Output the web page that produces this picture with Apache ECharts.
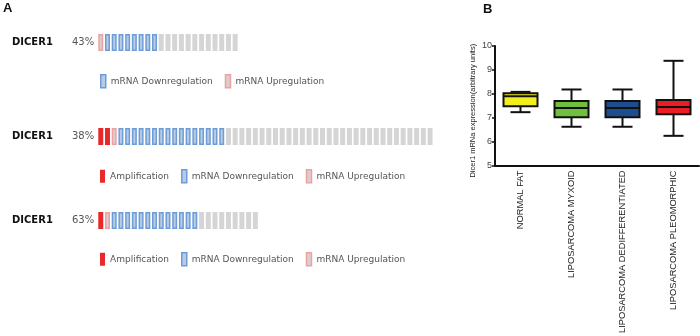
<!DOCTYPE html>
<html>
<head>
<meta charset="utf-8">
<script src="https://cdn.jsdelivr.net/npm/echarts@6/dist/echarts.min.js"></script>
<style>
  html, body { margin: 0; padding: 0; background: #fff; }
  #main { width: 700px; height: 336px; }
</style>
</head>
<body>
<div id="main"></div>
<script>
// panel A - oncoprint rows, one per dataset
var geneNames = ['DICER1', 'DICER1', 'DICER1'];
var sampleCount = [21, 50, 24];
var ampCount = [0, 2, 1];
var upCount = [1, 1, 1];
var downCount = [8, 16, 13];

// panel B - box plot
var groups = ['NORMAL FAT', 'LIPOSARCOMA MYXOID', 'LIPOSARCOMA DEDIFFERENTIATED', 'LIPOSARCOMA PLEOMORPHIC'];
var boxMin = [7.23, 6.62, 6.62, 6.24];
var boxQ1 = [7.48, 7.02, 7.02, 7.14];
var boxMedian = [7.9, 7.4, 7.4, 7.45];
var boxQ3 = [8.02, 7.7, 7.7, 7.74];
var boxMax = [8.08, 8.18, 8.18, 9.38];
var yTicks = [5, 6, 7, 8, 9, 10];

var boxColors = ['#f3ee1a', '#6fc03f', '#1e4d8e', '#ec1e25'];

var chart = echarts.init(document.getElementById('main'));

// layout of the oncoprint rows
var rowTop = [34, 128, 212];
var rowLegendTop = [74, 169, 252];
var cellPitch = 6.72;
var cellLeft = 97.4;

var typeNames = {
  amp: 'Amplification',
  down: 'mRNA Downregulation',
  up: 'mRNA Upregulation',
  none: 'Unaltered'
};
var typeStyle = {
  none: { color: '#d5d5d5' },
  amp: { color: '#e8282b' },
  up: { color: '#d8d0d0', borderColor: '#efa0a0', borderWidth: 1.5 },
  down: { color: '#b9cbe3', borderColor: '#6c9dd8', borderWidth: 1.5 }
};

var grids = [], xAxes = [], yAxes = [], series = [], legends = [], graphics = [];

for (var r = 0; r < 3; r++) {
  var cells = [];
  for (var i = 0; i < ampCount[r]; i++) cells.push('amp');
  for (i = 0; i < upCount[r]; i++) cells.push('up');
  for (i = 0; i < downCount[r]; i++) cells.push('down');
  while (cells.length < sampleCount[r]) cells.push('none');

  grids.push({ left: cellLeft, top: rowTop[r], width: sampleCount[r] * cellPitch, height: 17 });
  xAxes.push({ type: 'category', gridIndex: r, data: cells.map(function (c, k) { return k; }), show: false });
  yAxes.push({ type: 'value', gridIndex: r, min: 0, max: 1, show: false });

  ['none', 'amp', 'up', 'down'].forEach(function (t) {
    series.push({
      name: typeNames[t],
      type: 'bar',
      xAxisIndex: r,
      yAxisIndex: r,
      barWidth: 5,
      barGap: '-100%',
      silent: true,
      itemStyle: typeStyle[t],
      data: cells.map(function (c) { return c === t ? 1 : '-'; })
    });
  });

  var legendData = [];
  if (ampCount[r] > 0) legendData.push({ name: typeNames.amp, itemStyle: typeStyle.amp });
  legendData.push({ name: typeNames.down, itemStyle: typeStyle.down });
  legendData.push({ name: typeNames.up, itemStyle: typeStyle.up });
  legends.push({
    left: 100,
    top: rowLegendTop[r],
    padding: 0,
    itemWidth: 5,
    itemHeight: 13,
    itemGap: 12,
    selectedMode: false,
    icon: 'rect',
    textStyle: { fontFamily: 'DejaVu Sans', fontSize: 9, color: '#555' },
    data: legendData
  });

  var altered = ampCount[r] + upCount[r] + downCount[r];
  graphics.push({
    type: 'text', left: 12, top: rowTop[r] + 3,
    style: { text: geneNames[r], font: 'bold 10px "DejaVu Sans"', fill: '#111' }
  });
  graphics.push({
    type: 'text', left: 72, top: rowTop[r] + 3,
    style: { text: Math.round(altered / sampleCount[r] * 100) + '%', font: '10px "DejaVu Sans"', fill: '#555' }
  });
}

graphics.push({ type: 'text', left: 3, top: 2, style: { text: 'A', font: 'bold 13px "Liberation Sans"', fill: '#111' } });
graphics.push({ type: 'text', left: 483, top: 3, style: { text: 'B', font: 'bold 13px "Liberation Sans"', fill: '#111' } });

// box plot grid
grids.push({ left: 495, top: 46, width: 204, height: 122 });
xAxes.push({
  type: 'category',
  gridIndex: 3,
  data: groups,
  axisLine: { lineStyle: { color: '#111', width: 2 } },
  axisTick: { alignWithLabel: true, length: 5, lineStyle: { color: '#111', width: 1.5 } },
  axisLabel: { rotate: 90, fontSize: 9.3, fontFamily: 'Liberation Sans', color: '#222', margin: 5, interval: 0 }
});
yAxes.push({
  type: 'value',
  gridIndex: 3,
  min: yTicks[0],
  max: yTicks[yTicks.length - 1],
  interval: 1,
  name: 'Dicer1 mRNa expression(arbitrary units)',
  nameLocation: 'middle',
  nameRotate: 90,
  nameGap: 18,
  nameTextStyle: { fontSize: 7.5, fontFamily: 'Liberation Sans', color: '#222', padding: [0, 10, 0, 0] },
  axisLine: { show: true, lineStyle: { color: '#111', width: 2 } },
  axisTick: { show: true, length: 3, lineStyle: { color: '#111', width: 1.5 } },
  axisLabel: { fontSize: 9, fontFamily: 'Liberation Sans', color: '#444', margin: 3 },
  splitLine: { show: false }
});

series.push({
  type: 'custom',
  xAxisIndex: 3,
  yAxisIndex: 3,
  silent: true,
  encode: { x: 0, y: [1, 2, 3, 4, 5] },
  data: groups.map(function (g, i) {
    return [i, boxMin[i], boxQ1[i], boxMedian[i], boxQ3[i], boxMax[i]];
  }),
  renderItem: function (params, api) {
    var x = api.value(0);
    var pMin = api.coord([x, api.value(1)]);
    var pQ1 = api.coord([x, api.value(2)]);
    var pMed = api.coord([x, api.value(3)]);
    var pQ3 = api.coord([x, api.value(4)]);
    var pMax = api.coord([x, api.value(5)]);
    var cx = pMed[0];
    var hb = 17, hc = 10;
    var line = { stroke: '#111', lineWidth: 2 };
    return {
      type: 'group',
      children: [
        { type: 'line', shape: { x1: cx, y1: pMax[1], x2: cx, y2: pQ3[1] }, style: line },
        { type: 'line', shape: { x1: cx, y1: pQ1[1], x2: cx, y2: pMin[1] }, style: line },
        { type: 'line', shape: { x1: cx - hc, y1: pMax[1], x2: cx + hc, y2: pMax[1] }, style: line },
        { type: 'line', shape: { x1: cx - hc, y1: pMin[1], x2: cx + hc, y2: pMin[1] }, style: line },
        {
          type: 'rect',
          shape: { x: cx - hb, y: pQ3[1], width: hb * 2, height: pQ1[1] - pQ3[1] },
          style: { fill: boxColors[params.dataIndex], stroke: '#111', lineWidth: 2 }
        },
        { type: 'line', shape: { x1: cx - hb, y1: pMed[1], x2: cx + hb, y2: pMed[1] }, style: line }
      ]
    };
  }
});

chart.setOption({
  animation: false,
  grid: grids,
  xAxis: xAxes,
  yAxis: yAxes,
  legend: legends,
  graphic: graphics,
  series: series
});
</script>
</body>
</html>
